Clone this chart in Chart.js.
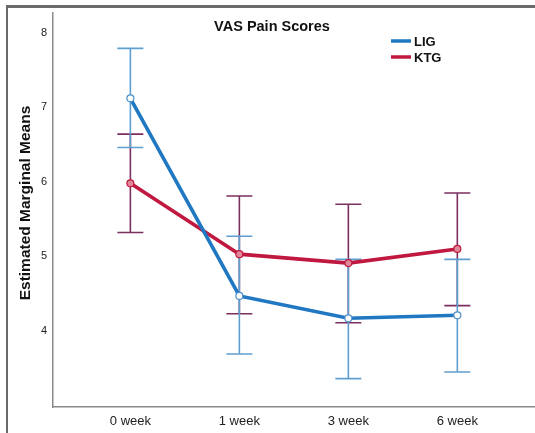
<!DOCTYPE html>
<html>
<head>
<meta charset="utf-8">
<script src="https://cdn.jsdelivr.net/npm/chart.js@4"></script>
<style>
  body { margin: 0; background: #fff; }
  #wrap { position: relative; width: 535px; height: 433px; overflow: hidden; }
  #frame { position: absolute; left: 6px; top: 5px; right: 0; bottom: 0;
           border-left: 2px solid #6a6a6a; border-top: 3px solid #6a6a6a; }
  canvas { position: absolute; left: 0; top: 0; }
</style>
</head>
<body>
<div id="wrap">
  <div id="frame"></div>
  <canvas id="myChart" width="541" height="433"></canvas>
</div>
<script>
const weeks = ["0 week", "1 week", "3 week", "6 week"];
const yTicks = [4, 5, 6, 7, 8];

const ligMean = [7.12, 4.47, 4.17, 4.21];
const ligUpper = [7.79, 5.27, 4.96, 4.96];
const ligLower = [6.46, 3.69, 3.36, 3.45];

const ktgMean = [5.98, 5.03, 4.91, 5.10];
const ktgUpper = [6.64, 5.81, 5.70, 5.85];
const ktgLower = [5.32, 4.23, 4.11, 4.34];

document.addEventListener("DOMContentLoaded", () => {
  const font = "'Liberation Sans', Arial, sans-serif";

  // draws the confidence interval bars behind the lines
  const errorBars = {
    id: "errorBars",
    beforeDatasetsDraw(chart) {
      const ctx = chart.ctx;
      const x = chart.scales.x;
      const y = chart.scales.y;
      const sets = [
        { lo: ktgLower, hi: ktgUpper, color: "#7b2f5e" },
        { lo: ligLower, hi: ligUpper, color: "#5f9fcf" },
      ];
      ctx.save();
      ctx.lineWidth = 1.6;
      sets.forEach((s) => {
        ctx.strokeStyle = s.color;
        s.lo.forEach((lo, i) => {
          const px = x.getPixelForValue(i);
          const yl = y.getPixelForValue(lo);
          const yh = y.getPixelForValue(s.hi[i]);
          ctx.beginPath();
          ctx.moveTo(px, yl);
          ctx.lineTo(px, yh);
          ctx.moveTo(px - 13, yl);
          ctx.lineTo(px + 13, yl);
          ctx.moveTo(px - 13, yh);
          ctx.lineTo(px + 13, yh);
          ctx.stroke();
        });
      });
      ctx.restore();
    },
    afterDraw(chart) {
      const ctx = chart.ctx;
      ctx.save();
      ctx.fillStyle = "#111";
      ctx.font = "bold 14.5px " + font;
      ctx.textAlign = "center";
      ctx.textBaseline = "middle";
      ctx.fillText("VAS Pain Scores", 272, 27);
      // y axis title
      ctx.save();
      ctx.translate(26, 203);
      ctx.rotate(-Math.PI / 2);
      ctx.font = "bold 15.5px " + font;
      ctx.fillText("Estimated Marginal Means", 0, 0);
      ctx.restore();
      // legend
      ctx.textAlign = "left";
      ctx.font = "bold 13px " + font;
      chart.data.datasets.forEach((ds, i) => {
        const ly = 41 + i * 16;
        ctx.strokeStyle = ds.borderColor;
        ctx.lineWidth = 3.5;
        ctx.beginPath();
        ctx.moveTo(391, ly);
        ctx.lineTo(411, ly);
        ctx.stroke();
        ctx.fillText(ds.label, 414, ly + 1);
      });
      ctx.restore();
    },
  };

  const toPoints = (arr) => arr.map((v, i) => ({ x: i, y: v }));

  new Chart(document.getElementById("myChart"), {
    type: "line",
    data: {
      datasets: [
        {
          label: "LIG",
          data: toPoints(ligMean),
          borderColor: "#1f78c1",
          borderWidth: 3.6,
          pointRadius: 3.5,
          pointBorderWidth: 1.2,
          pointBorderColor: "#4f8fc8",
          pointBackgroundColor: "#ffffff",
        },
        {
          label: "KTG",
          data: toPoints(ktgMean),
          borderColor: "#c0183f",
          borderWidth: 3.6,
          pointRadius: 3.5,
          pointBorderWidth: 1.2,
          pointBorderColor: "#c0183f",
          pointBackgroundColor: "#e0889a",
        },
      ],
    },
    options: {
      responsive: false,
      animation: false,
      layout: { padding: { top: 10, right: 0, left: 0, bottom: 0 } },
      plugins: { legend: { display: false }, tooltip: { enabled: false } },
      scales: {
        x: {
          type: "linear",
          min: -0.71,
          max: 3.72,
          afterBuildTicks: (scale) => {
            scale.ticks = weeks.map((w, i) => ({ value: i }));
          },
          afterFit: (scale) => {
            scale.height = 26;
          },
          grid: { display: false, drawTicks: false },
          border: { color: "#8a8a8a", width: 1.5 },
          ticks: {
            padding: 7,
            color: "#222",
            font: { family: font, size: 13 },
            callback: (v) => weeks[v],
          },
        },
        y: {
          min: 2.98,
          max: 8.27,
          afterBuildTicks: (scale) => {
            scale.ticks = yTicks.map((v) => ({ value: v }));
          },
          afterFit: (scale) => {
            scale.width = 53;
          },
          grid: { display: false, drawTicks: false },
          border: { color: "#8a8a8a", width: 1.5 },
          ticks: {
            padding: 6,
            color: "#222",
            font: { family: font, size: 11 },
          },
        },
      },
    },
    plugins: [errorBars],
  });
});
</script>
</body>
</html>
